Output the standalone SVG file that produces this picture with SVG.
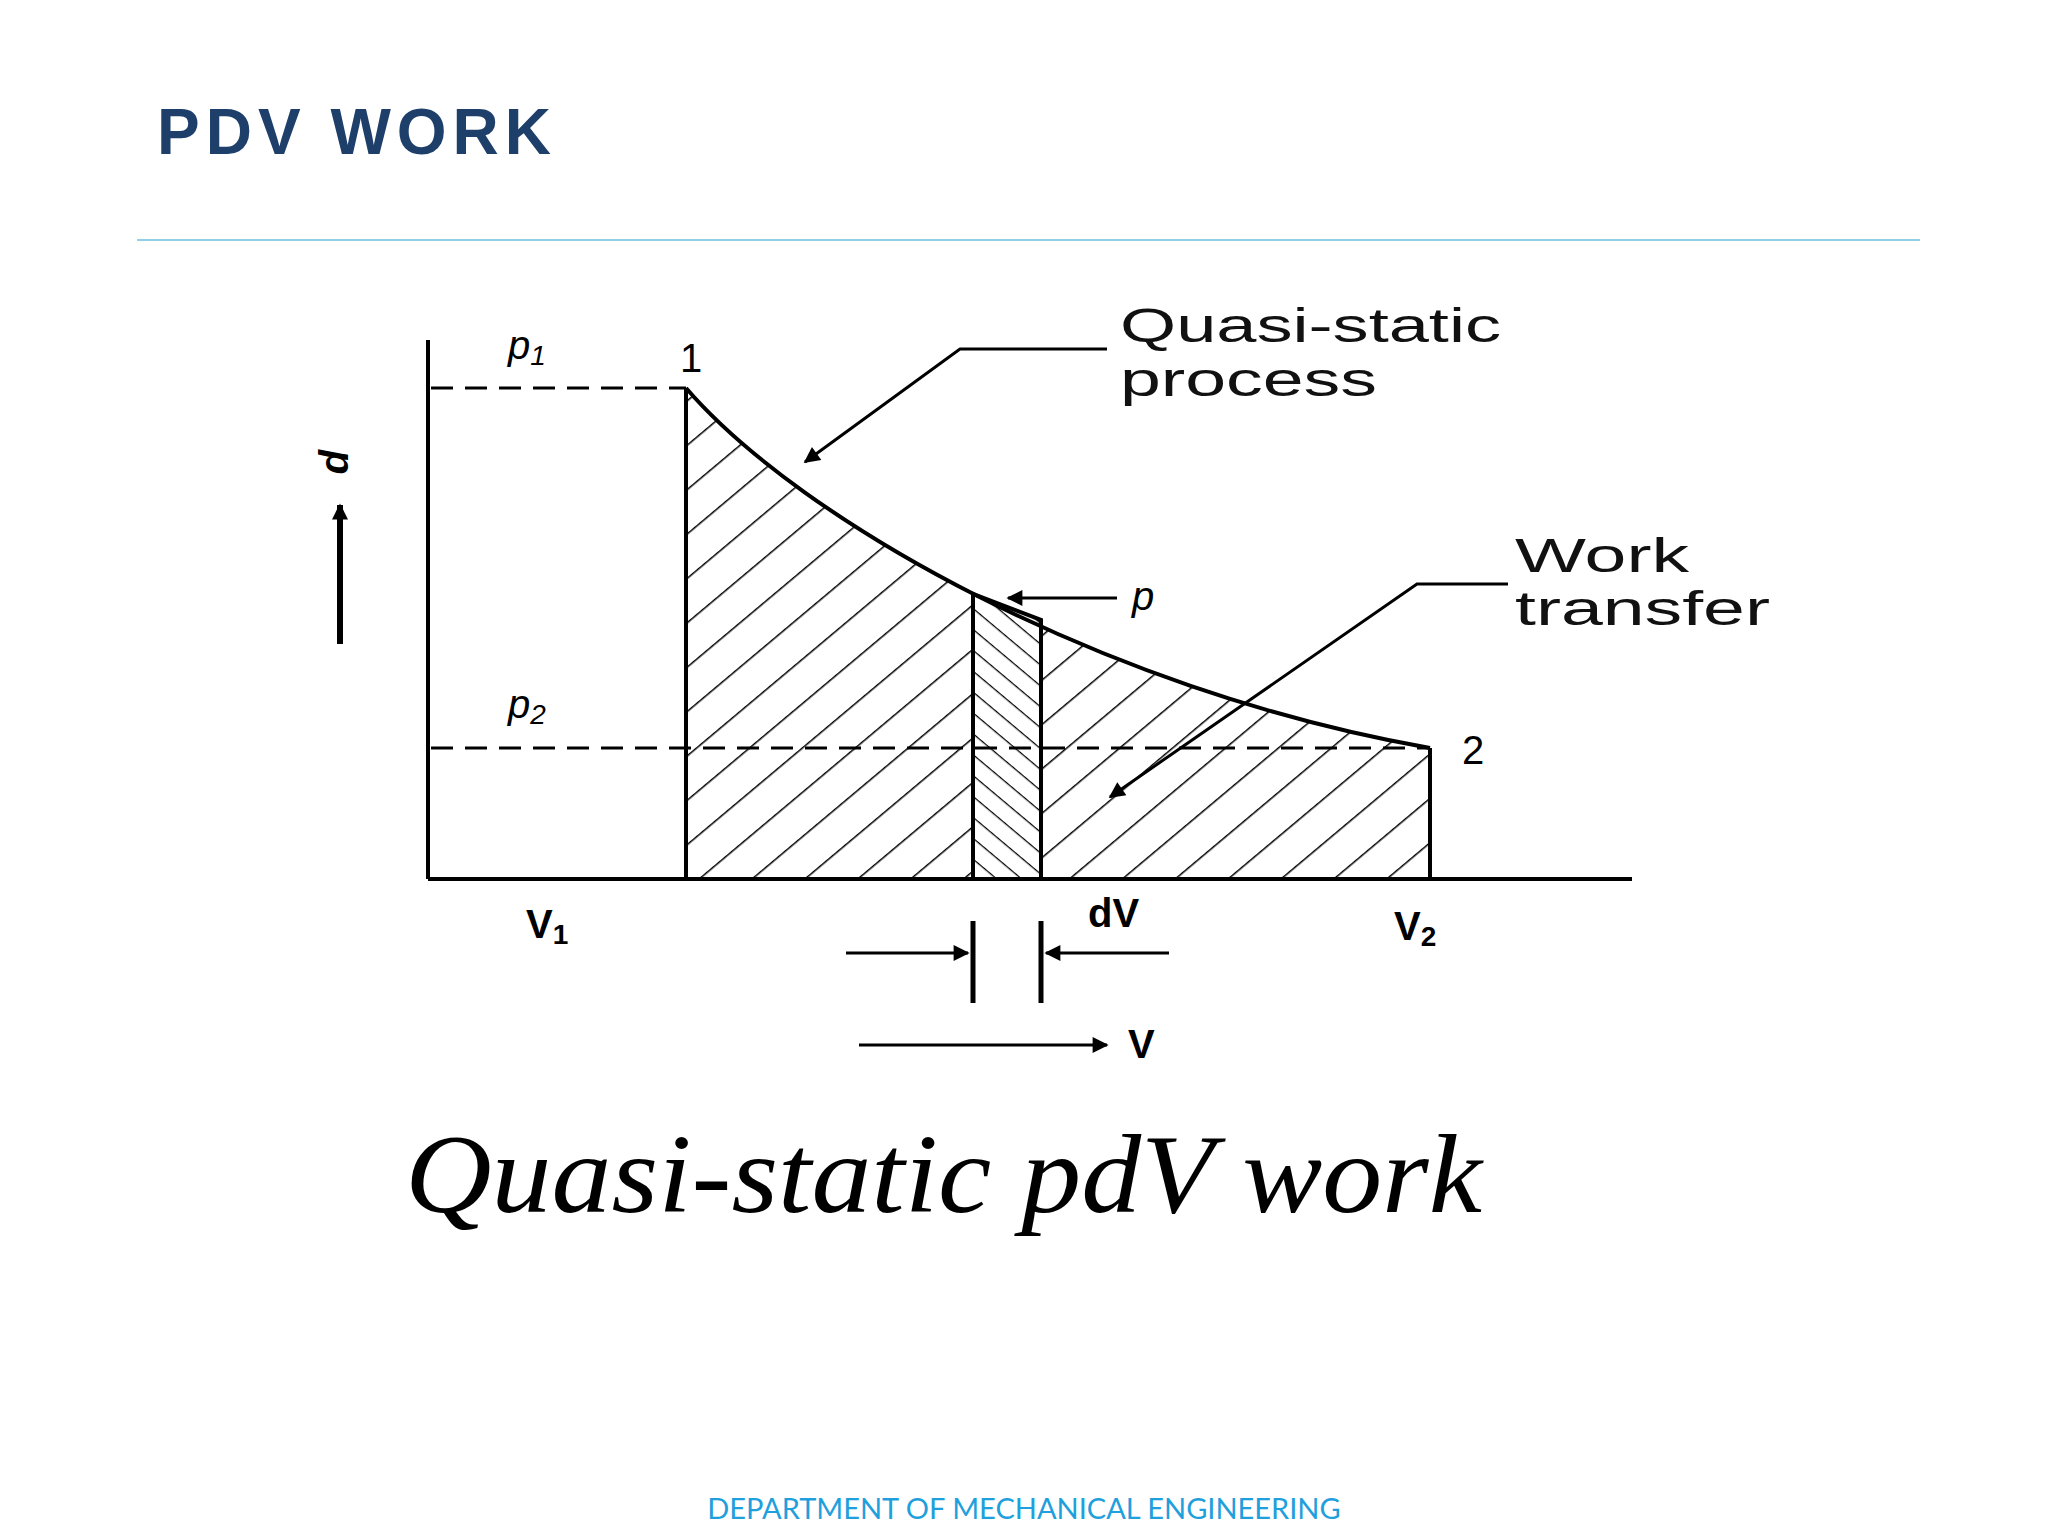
<svg xmlns="http://www.w3.org/2000/svg" width="2048" height="1536" viewBox="0 0 2048 1536">
<style>
.ax{stroke:#000;stroke-width:4;fill:none}
.dash{stroke:#000;stroke-width:3;stroke-dasharray:22 12;fill:none}
.lbl{font-family:"Liberation Sans",Arial,sans-serif;font-size:40px;fill:#000}
.note{font-family:"Liberation Sans",Arial,sans-serif;font-size:48px;fill:#111}
.ld{stroke:#000;stroke-width:3;fill:none}
</style>
<defs>
<pattern id="h1" width="34" height="34" patternUnits="userSpaceOnUse" patternTransform="rotate(-40)"><line x1="0" y1="0" x2="34" y2="0" stroke="#000" stroke-width="3"/></pattern>
<pattern id="h2" width="16" height="16" patternUnits="userSpaceOnUse" patternTransform="rotate(40)"><line x1="0" y1="0" x2="16" y2="0" stroke="#000" stroke-width="2.5"/></pattern>
<marker id="arb" viewBox="0 0 10 10" refX="9" refY="5" markerWidth="26" markerHeight="16" orient="auto" markerUnits="userSpaceOnUse"><path d="M0,0L10,5L0,10z" fill="#000"/></marker>
</defs>
<rect width="2048" height="1536" fill="#fff"/>
<text x="157" y="154" font-family="Liberation Sans,Arial,sans-serif" font-weight="bold" font-size="64" letter-spacing="6" fill="#1f3f6b">PDV WORK</text>
<line x1="137" y1="240" x2="1920" y2="240" stroke="#8fd0e6" stroke-width="2"/>
<g id="area">
<path d="M686,879 L686,388 C800,520 1100,690 1430,748 L1430,879 Z" fill="url(#h1)" stroke="none"/>
<path d="M973,879 L973,594 L1041,620 L1041,879 Z" fill="#fff"/>
<path d="M973,879 L973,594 L1041,620 L1041,879 Z" style="fill:url(#h2);stroke:#000;stroke-width:4"/>
<path d="M686,388 C800,520 1100,690 1430,748" class="ax"/>
<line x1="686" y1="388" x2="686" y2="879" class="ax"/>
<line x1="1430" y1="748" x2="1430" y2="879" class="ax"/>
</g>
<g id="axes">
<line x1="428" y1="340" x2="428" y2="879" class="ax"/>
<line x1="428" y1="879" x2="1632" y2="879" class="ax"/>
<line x1="431" y1="388" x2="686" y2="388" class="dash"/>
<line x1="431" y1="748" x2="1430" y2="748" class="dash"/>
</g>
<g id="connectors">
<line x1="340" y1="644" x2="340" y2="505" stroke="#000" stroke-width="6" marker-end="url(#arb)"/>
<line x1="859" y1="1045" x2="1107" y2="1045" class="ld" marker-end="url(#arb)"/>
<line x1="846" y1="953" x2="968" y2="953" class="ld" marker-end="url(#arb)"/>
<line x1="1169" y1="953" x2="1046" y2="953" class="ld" marker-end="url(#arb)"/>
<line x1="973" y1="921" x2="973" y2="1003" stroke="#000" stroke-width="5"/>
<line x1="1041" y1="921" x2="1041" y2="1003" stroke="#000" stroke-width="5"/>
<polyline points="1107,349 960,349 805,462" class="ld" marker-end="url(#arb)"/>
<polyline points="1508,584 1417,584 1110,797" class="ld" marker-end="url(#arb)"/>
<line x1="1117" y1="598" x2="1008" y2="598" class="ld" marker-end="url(#arb)"/>
</g>
<g id="labels">
<text x="508" y="359" class="lbl" font-style="italic">p<tspan font-size="28" dy="6">1</tspan></text>
<text x="680" y="372" class="lbl">1</text>
<text x="508" y="718" class="lbl" font-style="italic">p<tspan font-size="28" dy="6">2</tspan></text>
<text x="1462" y="764" class="lbl">2</text>
<text x="526" y="938" class="lbl" font-weight="bold">V<tspan font-size="28" dy="6">1</tspan></text>
<text x="1394" y="940" class="lbl" font-weight="bold">V<tspan font-size="28" dy="6">2</tspan></text>
<text x="1088" y="927" class="lbl" font-weight="bold">dV</text>
<text x="1128" y="1058" class="lbl" font-weight="bold">V</text>
<text x="1132" y="610" class="lbl" font-style="italic">p</text>
<text x="0" y="0" class="lbl" font-style="italic" font-weight="bold" transform="translate(326,450) rotate(90)">p</text>
<text x="1120" y="342" class="note" textLength="381" lengthAdjust="spacingAndGlyphs">Quasi-static</text>
<text x="1120" y="396" class="note" textLength="257" lengthAdjust="spacingAndGlyphs">process</text>
<text x="1515" y="572" class="note" textLength="174" lengthAdjust="spacingAndGlyphs">Work</text>
<text x="1515" y="625" class="note" textLength="255" lengthAdjust="spacingAndGlyphs">transfer</text>
</g>
<text x="405" y="1212" font-family="Liberation Serif,Times New Roman,serif" font-style="italic" font-size="112" textLength="1077" lengthAdjust="spacingAndGlyphs" fill="#000">Quasi-static pdV work</text>
<text x="1024" y="1519" text-anchor="middle" font-family="Lato,Liberation Sans,sans-serif" font-size="29" fill="#1fa0dc">DEPARTMENT OF MECHANICAL ENGINEERING</text>
</svg>
